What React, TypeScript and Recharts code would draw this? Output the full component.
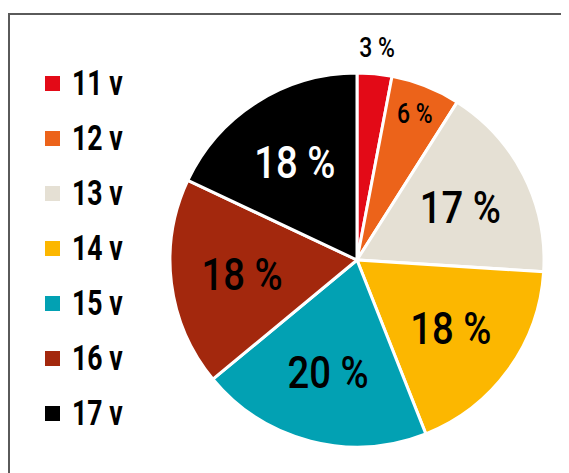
import React from 'react';
import { PieChart, Pie, Cell } from 'recharts';

const categories = ['11 v', '12 v', '13 v', '14 v', '15 v', '16 v', '17 v'];
const shares = [3, 6, 17, 18, 20, 18, 18];
const colors = ['#e30a17', '#ec631a', '#e5e0d4', '#fcb700', '#02a1b3', '#a3280d', '#000000'];

const data = categories.map((name, i) => ({ name, value: shares[i] }));

const RAD = Math.PI / 180;

const renderLabel = (props: any) => {
  const { cx, cy, midAngle, outerRadius, value, index } = props;
  // small slices get their label pushed out / towards the rim
  const factor = value < 5 ? 1.14 : value < 10 ? 0.84 : 0.62;
  const r = outerRadius * factor;
  const x = cx + r * Math.cos(-midAngle * RAD);
  const y = cy + r * Math.sin(-midAngle * RAD);
  const size = value < 10 ? 27 : 45;
  const fill = colors[index] === '#000000' ? '#ffffff' : '#000000';
  return (
    <text
      transform={`translate(${x},${y}) scale(0.85,1)`}
      textAnchor="middle"
      dominantBaseline="central"
      fontFamily="Roboto, sans-serif"
      fontWeight={500}
      fontSize={size}
      fill={fill}
    >
      {`${value} %`}
    </text>
  );
};

const LegendBox = () => (
  <div style={{ position: 'absolute', left: 37, top: 48 }}>
    {categories.map((c, i) => (
      <div key={c} style={{ display: 'flex', alignItems: 'center', height: 55 }}>
        <span style={{ display: 'inline-block', width: 15, height: 15, background: colors[i], marginRight: 12 }} />
        <span
          style={{
            display: 'inline-block',
            fontFamily: 'Roboto, sans-serif',
            fontWeight: 700,
            fontSize: 35,
            color: '#000',
            transform: 'scaleX(0.76)',
            transformOrigin: 'left center',
            whiteSpace: 'nowrap',
            lineHeight: 1,
          }}
        >
          {c}
        </span>
      </div>
    ))}
  </div>
);

export default function App() {
  return (
    <div style={{ position: 'relative', width: 561, height: 465 }}>
      <div
        style={{
          position: 'absolute',
          left: 0,
          top: 5,
          right: 0,
          bottom: 0,
          borderTop: '2px solid #5a5a5a',
          borderLeft: '2px solid #5a5a5a',
        }}
      />
      <div style={{ position: 'absolute', left: 0, top: 0 }}>
        <PieChart width={561} height={465} margin={{ top: 0, right: 0, bottom: 0, left: 0 }}>
          <Pie
            data={data}
            dataKey="value"
            nameKey="name"
            cx={349}
            cy={252}
            outerRadius={187}
            startAngle={90}
            endAngle={-270}
            stroke="#ffffff"
            strokeWidth={3}
            label={renderLabel}
            labelLine={false}
            isAnimationActive={false}
          >
            {data.map((d, i) => (
              <Cell key={d.name} fill={colors[i]} />
            ))}
          </Pie>
        </PieChart>
      </div>
      <LegendBox />
    </div>
  );
}
